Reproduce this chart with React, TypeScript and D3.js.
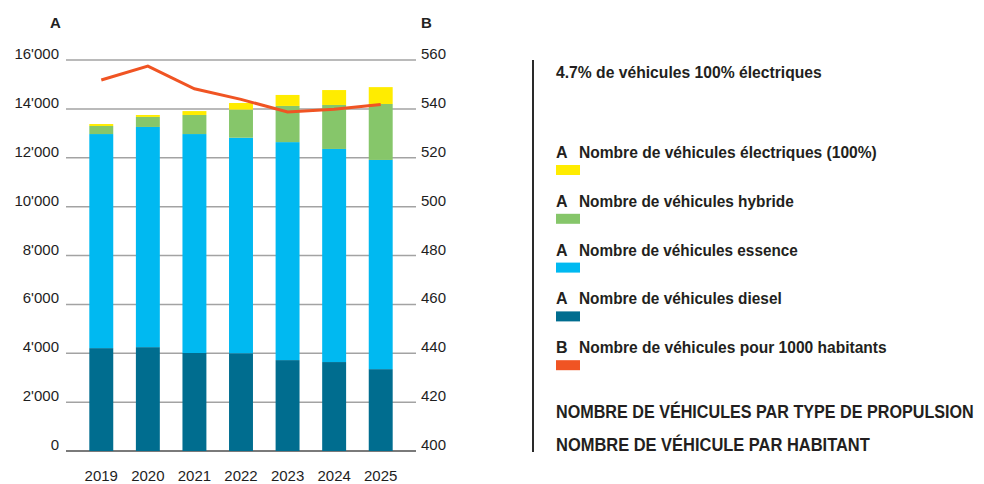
import React, { useRef, useEffect } from "react";
import * as d3 from "d3";

const years = ["2019", "2020", "2021", "2022", "2023", "2024", "2025"];
const diesel = [4210, 4250, 4010, 4000, 3720, 3640, 3350];
const essence = [8760, 9010, 8960, 8820, 8920, 8720, 8560];
const hybride = [330, 410, 780, 1150, 1480, 1800, 2290];
const electrique = [80, 80, 160, 270, 450, 610, 690];
const parHabitant = [551.8, 557.5, 548.2, 543.9, 538.7, 539.8, 541.8];

const leftTicks = [0, 2000, 4000, 6000, 8000, 10000, 12000, 14000, 16000];
const rightTicks = [400, 420, 440, 460, 480, 500, 520, 540, 560];

const legendAxes = ["A", "A", "A", "A", "B"];
const legendLabels = [
  "Nombre de véhicules électriques (100%)",
  "Nombre de véhicules hybride",
  "Nombre de véhicules essence",
  "Nombre de véhicules diesel",
  "Nombre de véhicules pour 1000 habitants",
];
const legendColors = ["#ffec00", "#86c66a", "#00b9f1", "#006d8f", "#f05423"];

const W = 984;
const H = 484;
const plotLeft = 66;
const plotRight = 416;
const plotTop = 60;
const plotBottom = 451;
const baseFont = "'Liberation Sans', Arial, Helvetica, sans-serif";
const narrowFont = "'Liberation Sans', Arial, sans-serif";

const App = () => {
  const svgRef = useRef(null);

  useEffect(() => {
    draw();
  }, []);

  const draw = () => {
    const svg = d3.select(svgRef.current);
    svgRef.current.querySelectorAll("*").forEach((n) => n.remove());

    const rows = years.map((y, i) => ({
      year: y,
      diesel: diesel[i],
      essence: essence[i],
      hybride: hybride[i],
      electrique: electrique[i],
    }));

    const xScale = d3.scaleBand()
      .domain(years)
      .range([78, 404])
      .paddingInner(0.486)
      .paddingOuter(0.243);

    const yLeft = d3.scaleLinear().domain([0, 16000]).range([plotBottom, plotTop]);
    const yRight = d3.scaleLinear().domain([400, 560]).range([plotBottom, plotTop]);

    // gridlines
    svg.append("g")
      .selectAll("line")
      .data(leftTicks)
      .join("line")
      .attr("x1", plotLeft)
      .attr("x2", plotRight)
      .attr("y1", (d) => yLeft(d))
      .attr("y2", (d) => yLeft(d))
      .attr("stroke", (d) => (d === 0 ? "#7a7a7a" : "#a3a3a3"))
      .attr("stroke-width", (d) => (d === 0 ? 2 : 1.5));

    // left axis labels
    const fmt = (d) => d3.format(",")(d).replace(/,/g, "'");
    svg.append("g")
      .selectAll("text")
      .data(leftTicks)
      .join("text")
      .attr("x", 59)
      .attr("y", (d) => yLeft(d) - 1)
      .attr("text-anchor", "end")
      .attr("font-family", baseFont)
      .attr("font-size", 15)
      .attr("fill", "#1e1e1e")
      .text(fmt);

    // right axis labels
    svg.append("g")
      .selectAll("text")
      .data(rightTicks)
      .join("text")
      .attr("x", 421)
      .attr("y", (d) => yRight(d) - 1)
      .attr("font-family", baseFont)
      .attr("font-size", 15)
      .attr("fill", "#1e1e1e")
      .text((d) => d);

    svg.append("text")
      .attr("x", 50).attr("y", 28)
      .attr("font-family", baseFont).attr("font-weight", "bold").attr("font-size", 15)
      .attr("fill", "#222").text("A");
    svg.append("text")
      .attr("x", 421).attr("y", 28)
      .attr("font-family", baseFont).attr("font-weight", "bold").attr("font-size", 15)
      .attr("fill", "#222").text("B");

    // stacked bars
    const keys = ["diesel", "essence", "hybride", "electrique"];
    const colors = ["#006d8f", "#00b9f1", "#86c66a", "#ffec00"];
    const stacked = d3.stack().keys(keys)(rows);

    svg.append("g")
      .selectAll("g")
      .data(stacked)
      .join("g")
      .attr("fill", (_, i) => colors[i])
      .selectAll("rect")
      .data((d) => d)
      .join("rect")
      .attr("x", (d) => xScale(d.data.year))
      .attr("width", xScale.bandwidth())
      .attr("y", (d) => yLeft(d[1]))
      .attr("height", (d) => yLeft(d[0]) - yLeft(d[1]));

    // year labels
    svg.append("g")
      .selectAll("text")
      .data(years)
      .join("text")
      .attr("x", (d) => xScale(d) + xScale.bandwidth() / 2)
      .attr("y", 481)
      .attr("text-anchor", "middle")
      .attr("font-family", baseFont)
      .attr("font-size", 15)
      .attr("fill", "#1e1e1e")
      .text((d) => d);

    // line per habitant
    const lineGen = d3.line()
      .x((_, i) => xScale(years[i]) + xScale.bandwidth() / 2)
      .y((d) => yRight(d));

    svg.append("path")
      .datum(parHabitant)
      .attr("d", lineGen)
      .attr("fill", "none")
      .attr("stroke", "#f05423")
      .attr("stroke-width", 3);

    // legend
    const lg = svg.append("g");
    lg.append("line")
      .attr("x1", 533).attr("x2", 533)
      .attr("y1", 60).attr("y2", 452)
      .attr("stroke", "#2a2a2a").attr("stroke-width", 2);

    // condensed bold: squeeze Liberation Sans bold horizontally to a target width
    const narrowText = (parent, x, y, size, width, txt) => {
      const t = parent.append("text")
        .attr("font-family", narrowFont)
        .attr("font-weight", "bold")
        .attr("font-size", size)
        .attr("fill", "#231f20")
        .text(txt);
      const natural = t.node().getComputedTextLength() || width;
      t.attr("transform", `translate(${x},${y}) scale(${width / natural},1)`);
      return t;
    };

    narrowText(lg, 556, 78, 17, 266, "4.7% de véhicules 100% électriques");

    const labelWidths = [298, 215, 219, 203, 308];

    legendLabels.forEach((label, i) => {
      const g = lg.append("g").attr("transform", `translate(556, ${158 + i * 48.8})`);
      g.append("text")
        .attr("font-family", narrowFont).attr("font-weight", "bold").attr("font-size", 16)
        .attr("fill", "#231f20")
        .text(legendAxes[i]);
      narrowText(g, 23, 0, 16, labelWidths[i], label);
      g.append("rect")
        .attr("x", 0).attr("y", 7)
        .attr("width", 24).attr("height", 10)
        .attr("fill", legendColors[i]);
    });

    narrowText(lg, 556, 418, 19, 418, "NOMBRE DE VÉHICULES PAR TYPE DE PROPULSION");
    narrowText(lg, 556, 451, 19, 314, "NOMBRE DE VÉHICULE PAR HABITANT");
  };

  return (
    <svg
      ref={svgRef}
      width={W}
      height={H}
      style={{ position: "absolute", left: 0, top: 0, background: "#fff" }}
    />
  );
};

export default App;
